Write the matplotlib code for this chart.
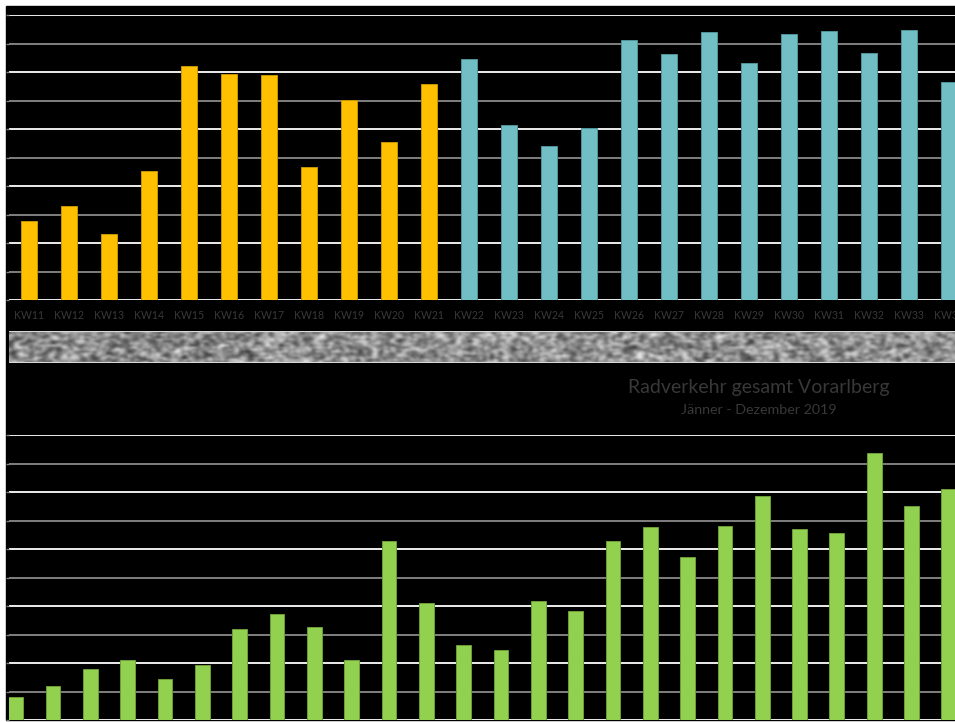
import matplotlib
matplotlib.use('Agg')
import matplotlib.pyplot as plt
import numpy as np
from matplotlib.patches import Rectangle

# data (gridline units, 0-10)
kw_labels = ['KW11', 'KW12', 'KW13', 'KW14', 'KW15', 'KW16', 'KW17', 'KW18',
             'KW19', 'KW20', 'KW21', 'KW22', 'KW23', 'KW24', 'KW25', 'KW26',
             'KW27', 'KW28', 'KW29', 'KW30', 'KW31', 'KW32', 'KW33', 'KW34']
kw_values = [2.77, 3.30, 2.32, 4.52, 8.21, 7.93, 7.90, 4.67, 7.04, 5.56, 7.60,
             8.45, 6.13, 5.41, 6.04, 9.12, 8.63, 9.40, 8.32, 9.34, 9.45, 8.66,
             9.47, 7.64]
n_yellow = 11  # KW11-KW21 yellow, rest teal

total_values = [0.80, 1.21, 1.79, 2.12, 1.44, 1.92, 3.20, 3.72, 3.27, 2.10,
                6.29, 4.11, 2.63, 2.46, 4.17, 3.83, 6.28, 6.78, 5.71, 6.80,
                7.86, 6.71, 6.56, 9.39, 7.53, 8.11]

title = 'Radverkehr gesamt Vorarlberg'
subtitle = 'Jänner - Dezember 2019'

yellow, teal, green = '#FFC000', '#71BEC4', '#92D050'
text_grey = '#383838'

W, H = 955, 722
fig = plt.figure(figsize=(W / 100, H / 100), dpi=100)
fig.patch.set_facecolor('white')
plt.rcParams['font.family'] = ['Lato', 'DejaVu Sans']


def px_box(x0, y0, x1, y1):
    # pixel box (top-left origin) -> figure fraction rect
    return [x0 / W, 1 - y1 / H, (x1 - x0) / W, (y1 - y0) / H]


# black background panel (behind everything)
fig.patches.append(Rectangle((6 / W, 1 - 720 / H), (W - 6) / W, 714 / H,
                             transform=fig.transFigure, color='black', zorder=-10))


def style_axis(ax):
    ax.set_facecolor('none')
    for s in ax.spines.values():
        s.set_visible(False)
    ax.set_ylim(0, 10)
    ax.set_yticks(range(11))
    ax.set_yticklabels([])
    ax.tick_params(axis='y', length=2.2, width=1, color='#7f7f7f', direction='out')
    for v in range(11):
        col = 'white' if v % 2 == 0 else '#8a8a8a'
        ax.axhline(v, color=col, lw=1.3, zorder=1)


# top chart: weekly values
ax1 = fig.add_axes(px_box(9, 15.3, W, 300))
style_axis(ax1)
x1 = np.arange(len(kw_values))
colors = [yellow] * n_yellow + [teal] * (len(kw_values) - n_yellow)
edges = ['#c79600'] * n_yellow + ['#4f9399'] * (len(kw_values) - n_yellow)
ax1.bar(x1, kw_values, width=0.4, color=colors, edgecolor=edges, linewidth=0.7, zorder=2)
ax1.set_xlim(-0.5, -0.5 + (W - 9) / 40)
ax1.set_xticks(x1)
ax1.set_xticklabels(kw_labels, fontsize=7.6, color=text_grey)
ax1.tick_params(axis='x', length=0, pad=7)

# textured strip between the charts (deterministic hash pattern, coarse grain)
ax_s = fig.add_axes(px_box(9, 331, W, 363))
yy, xx = np.mgrid[0:16, 0:400]
noise = np.modf(np.abs(np.sin(xx * 12.9898 + yy * 78.233) * 43758.5453))[0]
tex = noise.copy()
for dy, dx in [(0, 1), (1, 0), (0, -1)]:
    tex += 0.6 * np.roll(np.roll(noise, dy, axis=0), dx, axis=1)
tex = tex / tex.max()
ax_s.imshow(tex, cmap='gray', vmin=-0.15, vmax=1.05, aspect='auto', interpolation='bicubic')
ax_s.set_xticks([])
ax_s.set_yticks([])
for s in ax_s.spines.values():
    s.set_visible(False)
ax_s.axhline(-0.5, color='#d8d8d8', lw=1.5)
ax_s.axhline(15.5, color='#d8d8d8', lw=1.5)

# bottom chart: total traffic
ax2 = fig.add_axes(px_box(9, 435.3, W, 720))
style_axis(ax2)
x2 = np.arange(len(total_values))
ax2.bar(x2, total_values, width=0.4, color=green, edgecolor='#6d9e38', linewidth=0.7, zorder=2)
ax2.set_xlim((9 - 15.7) / 37.33, (W - 15.7) / 37.33)
ax2.set_xticks([])

fig.text(759 / W, 1 - 388 / H, title, fontsize=14, color=text_grey,
         ha='center', va='center')
fig.text(759 / W, 1 - 410.5 / H, subtitle, fontsize=10.3, color=text_grey,
         ha='center', va='center')

plt.savefig('out.png', dpi=100, facecolor=fig.get_facecolor())
